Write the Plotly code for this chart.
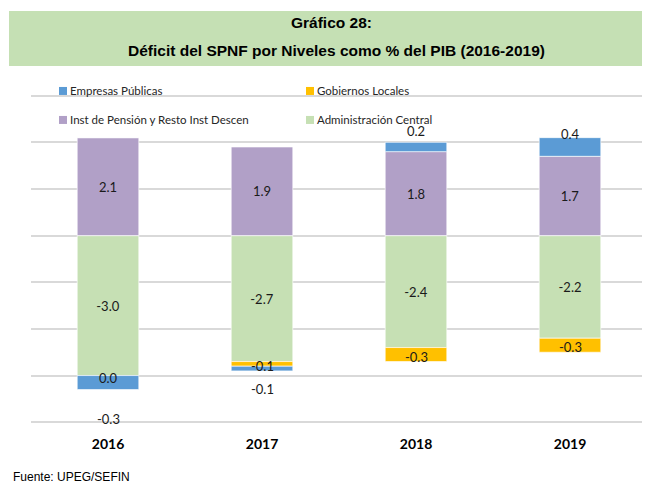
import plotly.graph_objects as go

# ---------------- data ----------------
years = ["2016", "2017", "2018", "2019"]
admin_central = [-3.0, -2.7, -2.4, -2.2]
inst_pension = [2.1, 1.9, 1.8, 1.7]
gob_locales = [0.0, -0.1, -0.3, -0.3]
empresas = [-0.3, -0.1, 0.2, 0.4]

names = {
    "emp": "Empresas Públicas",
    "gob": "Gobiernos Locales",
    "inst": "Inst de Pensión y Resto Inst Descen",
    "adm": "Administración Central",
}
title_line1 = "Gráfico 28:"
title_line2 = "Déficit del SPNF por Niveles como % del PIB (2016-2019)"
source_text = "Fuente: UPEG/SEFIN"

# ---------------- style ----------------
colors = {"emp": "#5B9BD5", "gob": "#FFC000", "inst": "#B1A0C7", "adm": "#C6E0B4"}
OFF = 8                      # page body margin of the html page
W, H = 650 - OFF, 484 - OFF
Y_MIN, Y_MAX = -4.06, 3.25
UNIT = 46.66                 # px per 1 %
PLOT_TOP = 95.7 - (Y_MAX - 3) * UNIT      # in page pixels
PLOT_H = (Y_MAX - Y_MIN) * UNIT
ML = 31 - OFF
MR = 3
MT = PLOT_TOP - OFF
MB = H - MT - PLOT_H
LABEL_FONT = dict(family="Lato, Calibri, sans-serif", size=13, color="#1a1a1a")
NARROW = "Liberation Sans Narrow, Arial Narrow, Liberation Sans, Arial, sans-serif"
emp_label_shift = [-29, -18, 11, 4]   # pixel offsets of the Empresas labels

pw, ph = W - ML - MR, H - MT - MB
def px(x):   # page pixel -> paper x
    return (x - OFF - ML) / pw
def py(y):   # page pixel -> paper y
    return (H - MB - (y - OFF)) / ph

fig = go.Figure()
line = dict(color="rgba(255,255,255,0.8)", width=0.8)
fig.add_trace(go.Bar(x=years, y=admin_central, name=names["adm"],
                     marker=dict(color=colors["adm"], line=line),
                     texttemplate="%{y:.1f}", textposition="inside",
                     insidetextanchor="middle", textfont=LABEL_FONT,
                     textangle=0, showlegend=False))
fig.add_trace(go.Bar(x=years, y=inst_pension, name=names["inst"],
                     marker=dict(color=colors["inst"], line=line),
                     texttemplate="%{y:.1f}", textposition="inside",
                     insidetextanchor="middle", textfont=LABEL_FONT,
                     textangle=0, showlegend=False))
fig.add_trace(go.Bar(x=years, y=gob_locales, name=names["gob"],
                     marker=dict(color=colors["gob"], line=line),
                     textposition="none", showlegend=False))
fig.add_trace(go.Bar(x=years, y=empresas, name=names["emp"],
                     marker=dict(color=colors["emp"], line=line),
                     textposition="none", showlegend=False))

annotations = []
# labels for Gobiernos Locales (centre of segment)
for i, yr in enumerate(years):
    yc = admin_central[i] + gob_locales[i] / 2
    annotations.append(dict(x=i, y=yc, xref="x", yref="y", text=f"{gob_locales[i]:.1f}",
                            showarrow=False, font=LABEL_FONT, yshift=-2,
                            xanchor="center", yanchor="middle"))
# labels for Empresas Públicas (beyond end of stack)
for i, yr in enumerate(years):
    if empresas[i] < 0:
        yend = admin_central[i] + min(gob_locales[i], 0) + empresas[i]
    else:
        yend = inst_pension[i] + empresas[i]
    annotations.append(dict(x=i, y=yend, xref="x", yref="y", text=f"{empresas[i]:.1f}",
                            showarrow=False, font=LABEL_FONT, yshift=emp_label_shift[i],
                            xanchor="center", yanchor="middle"))

# title banner text
annotations.append(dict(x=px(331), y=py(23), xref="paper", yref="paper", text=f"<b>{title_line1}</b>",
                        showarrow=False, xanchor="center", yanchor="middle",
                        font=dict(family=NARROW, size=15.5, color="#000")))
annotations.append(dict(x=px(336), y=py(51), xref="paper", yref="paper", text=f"<b>{title_line2}</b>",
                        showarrow=False, xanchor="center", yanchor="middle",
                        font=dict(family=NARROW, size=15.5, color="#000")))
# source
annotations.append(dict(x=px(11), y=py(477), xref="paper", yref="paper", text=source_text,
                        xanchor="left", yanchor="middle", showarrow=False,
                        font=dict(family=NARROW, size=12, color="#000")))

# banner + manual legend
shapes = [dict(type="rect", xref="paper", yref="paper", x0=px(9), x1=px(651), y0=py(66), y1=py(11),
               fillcolor="#C5E0B4", line=dict(width=0), layer="below")]
legend_items = [("emp", 59, 91), ("gob", 306, 91), ("inst", 59, 120), ("adm", 306, 120)]
for key, lx, ly in legend_items:
    shapes.append(dict(type="rect", xref="paper", yref="paper",
                       x0=px(lx), x1=px(lx + 8), y0=py(ly + 4), y1=py(ly - 4),
                       fillcolor=colors[key], line=dict(width=0)))
    annotations.append(dict(x=px(lx + 9), y=py(ly), xref="paper", yref="paper", text=names[key],
                            xanchor="left", yanchor="middle", showarrow=False,
                            font=dict(family="Lato, Calibri, sans-serif", size=11.5, color="#262626")))

fig.update_layout(
    width=W, height=H,
    margin=dict(l=ML, r=MR, t=MT, b=MB, autoexpand=False),
    barmode="relative", bargap=0.6,
    plot_bgcolor="white", paper_bgcolor="white",
    showlegend=False,
    annotations=annotations, shapes=shapes,
    xaxis=dict(type="category", range=[-0.5, 3.5], autorange=False,
               showgrid=False, zeroline=False, showline=False, ticks="",
               tickfont=dict(family="Lato, Calibri, sans-serif", size=14, color="#000", weight="bold"),
               ticklabelstandoff=9),
    yaxis=dict(range=[Y_MIN, Y_MAX], autorange=False, dtick=1, tick0=0, showticklabels=False,
               zeroline=False, showline=False, showgrid=True, gridcolor="#D9D9D9", gridwidth=1.5),
)

fig.write_html("out.html")
